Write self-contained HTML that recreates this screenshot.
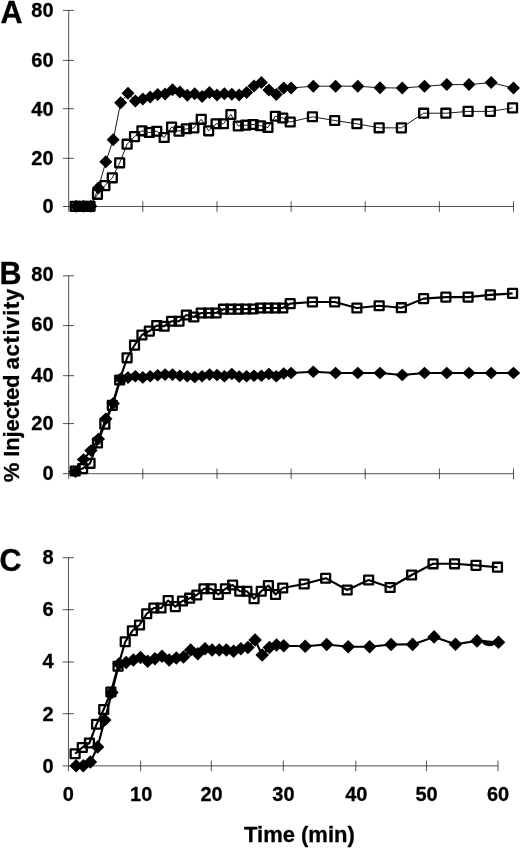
<!DOCTYPE html>
<html lang="en"><head><meta charset="utf-8"><title>Figure</title>
<style>
html,body{margin:0;padding:0;background:#fff}
svg{display:block}
text{font-family:"Liberation Sans",Arial,Helvetica,sans-serif;font-weight:bold;fill:#000;stroke:#000;stroke-width:0.3px;stroke-linejoin:round}
.yl text{font-size:20px;text-anchor:end}
.xl text{font-size:20px;text-anchor:middle}
.pl{font-size:30.5px}
.tl{font-size:22px;text-anchor:middle}
.rl{font-size:22px;text-anchor:start}
</style></head><body>
<svg width="520" height="849" viewBox="0 0 520 849">
<rect width="520" height="849" fill="#fff"/>
<g class="ax" stroke="#1a1a1a" stroke-width="0.75" fill="none">
<path d="M68.7 10.4V211.8"/>
<path d="M62.900000000000006 206.5H513.4"/>
<path d="M62.900000000000006 158.3H74.10000000000001"/>
<path d="M62.900000000000006 108.7H74.10000000000001"/>
<path d="M62.900000000000006 60.4H74.10000000000001"/>
<path d="M62.900000000000006 10.4H74.10000000000001"/>
<path d="M142.8 201.3V211.8"/>
<path d="M217.0 201.3V211.8"/>
<path d="M291.1 201.3V211.8"/>
<path d="M365.2 201.3V211.8"/>
<path d="M439.4 201.3V211.8"/>
<path d="M513.5 201.3V211.8"/>
</g>
<g class="yl">
<text x="53.6" y="213.3">0</text>
<text x="53.6" y="165.0">20</text>
<text x="53.6" y="115.5">40</text>
<text x="53.6" y="66.9">60</text>
<text x="53.6" y="17.0">80</text>
</g>
<text class="pl" x="0.6" y="22.5">A</text>
<polyline points="75.2,206.3 82.6,206.3 90.0,206.3 97.5,194.3 104.9,185.6 112.3,177.8 119.7,162.8 127.1,144.2 134.5,136.6 141.9,130.8 149.3,132.5 156.8,131.2 164.2,137.5 171.6,127.0 179.0,131.2 186.4,128.8 193.8,128.0 201.2,119.3 208.6,130.8 216.1,123.8 223.5,123.8 230.9,114.5 238.3,126.0 245.7,125.2 253.1,124.5 260.5,125.8 268.0,127.5 275.4,116.2 282.8,118.0 290.2,122.0 312.4,116.8 334.7,120.5 356.9,123.8 379.1,127.8 401.4,127.9 423.6,113.2 445.9,113.2 468.1,111.4 490.3,111.4 512.6,107.9" fill="none" stroke="#000" stroke-width="0.9" stroke-linejoin="round"/>
<polyline points="76.1,206.3 83.5,206.3 90.9,206.3 98.4,188.1 105.8,161.8 113.2,139.8 120.6,102.8 128.0,93.3 135.4,101.0 142.8,99.0 150.2,97.0 157.7,94.5 165.1,94.0 172.5,89.8 179.9,92.0 187.3,95.3 194.7,93.7 202.1,96.6 209.5,92.5 217.0,95.0 224.4,93.8 231.8,94.2 239.2,95.0 246.6,92.5 254.0,86.0 261.4,82.5 268.9,90.0 276.3,94.5 283.7,88.0 291.1,88.0 313.3,86.2 335.6,86.2 357.8,86.2 380.0,87.8 402.3,88.0 424.5,86.3 446.8,84.6 469.0,84.6 491.2,82.6 513.5,88.1" fill="none" stroke="#000" stroke-width="0.9" stroke-linejoin="round"/>
<g fill="none" stroke="#000" stroke-width="2.3" stroke-linejoin="round">
<rect x="70.76" y="201.85" width="8.9" height="8.9"/>
<rect x="78.18" y="201.85" width="8.9" height="8.9"/>
<rect x="85.59" y="201.85" width="8.9" height="8.9"/>
<rect x="93.00" y="189.85" width="8.9" height="8.9"/>
<rect x="100.41" y="181.15" width="8.9" height="8.9"/>
<rect x="107.83" y="173.35" width="8.9" height="8.9"/>
<rect x="115.24" y="158.35" width="8.9" height="8.9"/>
<rect x="122.65" y="139.75" width="8.9" height="8.9"/>
<rect x="130.07" y="132.15" width="8.9" height="8.9"/>
<rect x="137.48" y="126.35" width="8.9" height="8.9"/>
<rect x="144.89" y="128.05" width="8.9" height="8.9"/>
<rect x="152.31" y="126.80" width="8.9" height="8.9"/>
<rect x="159.72" y="133.05" width="8.9" height="8.9"/>
<rect x="167.13" y="122.55" width="8.9" height="8.9"/>
<rect x="174.55" y="126.80" width="8.9" height="8.9"/>
<rect x="181.96" y="124.30" width="8.9" height="8.9"/>
<rect x="189.37" y="123.55" width="8.9" height="8.9"/>
<rect x="196.78" y="114.85" width="8.9" height="8.9"/>
<rect x="204.20" y="126.35" width="8.9" height="8.9"/>
<rect x="211.61" y="119.30" width="8.9" height="8.9"/>
<rect x="219.02" y="119.30" width="8.9" height="8.9"/>
<rect x="226.44" y="110.05" width="8.9" height="8.9"/>
<rect x="233.85" y="121.55" width="8.9" height="8.9"/>
<rect x="241.26" y="120.75" width="8.9" height="8.9"/>
<rect x="248.68" y="120.05" width="8.9" height="8.9"/>
<rect x="256.09" y="121.30" width="8.9" height="8.9"/>
<rect x="263.50" y="123.05" width="8.9" height="8.9"/>
<rect x="270.91" y="111.80" width="8.9" height="8.9"/>
<rect x="278.33" y="113.55" width="8.9" height="8.9"/>
<rect x="285.74" y="117.55" width="8.9" height="8.9"/>
<rect x="307.98" y="112.30" width="8.9" height="8.9"/>
<rect x="330.22" y="116.05" width="8.9" height="8.9"/>
<rect x="352.46" y="119.30" width="8.9" height="8.9"/>
<rect x="374.70" y="123.35" width="8.9" height="8.9"/>
<rect x="396.94" y="123.45" width="8.9" height="8.9"/>
<rect x="419.17" y="108.75" width="8.9" height="8.9"/>
<rect x="441.41" y="108.75" width="8.9" height="8.9"/>
<rect x="463.65" y="106.95" width="8.9" height="8.9"/>
<rect x="485.89" y="106.95" width="8.9" height="8.9"/>
<rect x="508.13" y="103.45" width="8.9" height="8.9"/>
</g>
<g fill="#000">
<path d="M76.1 199.8l6.5 6.5l-6.5 6.5l-6.5 -6.5z"/>
<path d="M83.5 199.8l6.5 6.5l-6.5 6.5l-6.5 -6.5z"/>
<path d="M90.9 199.8l6.5 6.5l-6.5 6.5l-6.5 -6.5z"/>
<path d="M98.4 181.6l6.5 6.5l-6.5 6.5l-6.5 -6.5z"/>
<path d="M105.8 155.3l6.5 6.5l-6.5 6.5l-6.5 -6.5z"/>
<path d="M113.2 133.3l6.5 6.5l-6.5 6.5l-6.5 -6.5z"/>
<path d="M120.6 96.3l6.5 6.5l-6.5 6.5l-6.5 -6.5z"/>
<path d="M128.0 86.8l6.5 6.5l-6.5 6.5l-6.5 -6.5z"/>
<path d="M135.4 94.5l6.5 6.5l-6.5 6.5l-6.5 -6.5z"/>
<path d="M142.8 92.5l6.5 6.5l-6.5 6.5l-6.5 -6.5z"/>
<path d="M150.2 90.5l6.5 6.5l-6.5 6.5l-6.5 -6.5z"/>
<path d="M157.7 88.0l6.5 6.5l-6.5 6.5l-6.5 -6.5z"/>
<path d="M165.1 87.5l6.5 6.5l-6.5 6.5l-6.5 -6.5z"/>
<path d="M172.5 83.3l6.5 6.5l-6.5 6.5l-6.5 -6.5z"/>
<path d="M179.9 85.5l6.5 6.5l-6.5 6.5l-6.5 -6.5z"/>
<path d="M187.3 88.8l6.5 6.5l-6.5 6.5l-6.5 -6.5z"/>
<path d="M194.7 87.2l6.5 6.5l-6.5 6.5l-6.5 -6.5z"/>
<path d="M202.1 90.1l6.5 6.5l-6.5 6.5l-6.5 -6.5z"/>
<path d="M209.5 86.0l6.5 6.5l-6.5 6.5l-6.5 -6.5z"/>
<path d="M217.0 88.5l6.5 6.5l-6.5 6.5l-6.5 -6.5z"/>
<path d="M224.4 87.2l6.5 6.5l-6.5 6.5l-6.5 -6.5z"/>
<path d="M231.8 87.8l6.5 6.5l-6.5 6.5l-6.5 -6.5z"/>
<path d="M239.2 88.5l6.5 6.5l-6.5 6.5l-6.5 -6.5z"/>
<path d="M246.6 86.0l6.5 6.5l-6.5 6.5l-6.5 -6.5z"/>
<path d="M254.0 79.5l6.5 6.5l-6.5 6.5l-6.5 -6.5z"/>
<path d="M261.4 76.0l6.5 6.5l-6.5 6.5l-6.5 -6.5z"/>
<path d="M268.9 83.5l6.5 6.5l-6.5 6.5l-6.5 -6.5z"/>
<path d="M276.3 88.0l6.5 6.5l-6.5 6.5l-6.5 -6.5z"/>
<path d="M283.7 81.5l6.5 6.5l-6.5 6.5l-6.5 -6.5z"/>
<path d="M291.1 81.5l6.5 6.5l-6.5 6.5l-6.5 -6.5z"/>
<path d="M313.3 79.8l6.5 6.5l-6.5 6.5l-6.5 -6.5z"/>
<path d="M335.6 79.8l6.5 6.5l-6.5 6.5l-6.5 -6.5z"/>
<path d="M357.8 79.8l6.5 6.5l-6.5 6.5l-6.5 -6.5z"/>
<path d="M380.0 81.3l6.5 6.5l-6.5 6.5l-6.5 -6.5z"/>
<path d="M402.3 81.5l6.5 6.5l-6.5 6.5l-6.5 -6.5z"/>
<path d="M424.5 79.8l6.5 6.5l-6.5 6.5l-6.5 -6.5z"/>
<path d="M446.8 78.1l6.5 6.5l-6.5 6.5l-6.5 -6.5z"/>
<path d="M469.0 78.1l6.5 6.5l-6.5 6.5l-6.5 -6.5z"/>
<path d="M491.2 76.1l6.5 6.5l-6.5 6.5l-6.5 -6.5z"/>
<path d="M513.5 81.6l6.5 6.5l-6.5 6.5l-6.5 -6.5z"/>
</g>
<g class="ax" stroke="#1a1a1a" stroke-width="0.75" fill="none">
<path d="M68.7 275.8V479.0"/>
<path d="M62.900000000000006 473.7H513.4"/>
<path d="M62.900000000000006 423.6H74.10000000000001"/>
<path d="M62.900000000000006 375.7H74.10000000000001"/>
<path d="M62.900000000000006 325.6H74.10000000000001"/>
<path d="M62.900000000000006 275.8H74.10000000000001"/>
<path d="M142.8 468.5V479.0"/>
<path d="M217.0 468.5V479.0"/>
<path d="M291.1 468.5V479.0"/>
<path d="M365.2 468.5V479.0"/>
<path d="M439.4 468.5V479.0"/>
<path d="M513.5 468.5V479.0"/>
</g>
<g class="yl">
<text x="53.6" y="480.2">0</text>
<text x="53.6" y="430.3">20</text>
<text x="53.6" y="381.6">40</text>
<text x="53.6" y="331.4">60</text>
<text x="53.6" y="281.3">80</text>
</g>
<text class="pl" x="-0.4" y="283.7">B</text>
<polyline points="75.2,471.0 82.6,468.6 90.0,463.3 97.5,443.0 104.9,424.2 112.3,405.4 119.7,380.0 127.1,357.8 134.5,345.2 141.9,335.0 149.3,331.1 156.8,325.5 164.2,326.2 171.6,321.2 179.0,321.2 186.4,315.0 193.8,317.0 201.2,313.0 208.6,313.0 216.1,313.0 223.5,309.2 230.9,309.2 238.3,309.2 245.7,309.0 253.1,309.0 260.5,308.0 268.0,308.0 275.4,308.0 282.8,308.0 290.2,303.6 312.4,302.0 334.7,302.0 356.9,308.0 379.1,305.8 401.4,307.7 423.6,298.6 445.9,297.1 468.1,297.1 490.3,294.9 512.6,293.4" fill="none" stroke="#000" stroke-width="2.1" stroke-linejoin="round"/>
<polyline points="75.4,471.7 83.5,459.5 90.9,450.5 98.4,439.0 105.8,418.8 113.2,403.4 120.6,378.8 128.0,377.6 135.4,376.3 142.8,377.4 150.2,376.3 157.7,375.2 165.1,374.6 172.5,374.6 179.9,375.7 187.3,376.3 194.7,377.0 202.1,376.3 209.5,374.6 217.0,375.0 224.4,376.3 231.8,374.0 239.2,376.6 246.6,376.3 254.0,375.7 261.4,375.7 268.9,374.0 276.3,376.3 283.7,373.5 291.1,373.0 313.3,371.8 335.6,373.0 357.8,373.0 380.0,373.0 402.3,375.0 424.5,373.0 446.8,373.0 469.0,373.0 491.2,373.0 513.5,373.0" fill="none" stroke="#000" stroke-width="2.1" stroke-linejoin="round"/>
<g fill="none" stroke="#000" stroke-width="2.3" stroke-linejoin="round">
<rect x="70.76" y="466.55" width="8.9" height="8.9"/>
<rect x="78.18" y="464.15" width="8.9" height="8.9"/>
<rect x="85.59" y="458.85" width="8.9" height="8.9"/>
<rect x="93.00" y="438.55" width="8.9" height="8.9"/>
<rect x="100.41" y="419.75" width="8.9" height="8.9"/>
<rect x="107.83" y="400.95" width="8.9" height="8.9"/>
<rect x="115.24" y="375.55" width="8.9" height="8.9"/>
<rect x="122.65" y="353.35" width="8.9" height="8.9"/>
<rect x="130.07" y="340.75" width="8.9" height="8.9"/>
<rect x="137.48" y="330.55" width="8.9" height="8.9"/>
<rect x="144.89" y="326.65" width="8.9" height="8.9"/>
<rect x="152.31" y="321.05" width="8.9" height="8.9"/>
<rect x="159.72" y="321.80" width="8.9" height="8.9"/>
<rect x="167.13" y="316.80" width="8.9" height="8.9"/>
<rect x="174.55" y="316.80" width="8.9" height="8.9"/>
<rect x="181.96" y="310.55" width="8.9" height="8.9"/>
<rect x="189.37" y="312.55" width="8.9" height="8.9"/>
<rect x="196.78" y="308.55" width="8.9" height="8.9"/>
<rect x="204.20" y="308.55" width="8.9" height="8.9"/>
<rect x="211.61" y="308.55" width="8.9" height="8.9"/>
<rect x="219.02" y="304.75" width="8.9" height="8.9"/>
<rect x="226.44" y="304.75" width="8.9" height="8.9"/>
<rect x="233.85" y="304.75" width="8.9" height="8.9"/>
<rect x="241.26" y="304.55" width="8.9" height="8.9"/>
<rect x="248.68" y="304.55" width="8.9" height="8.9"/>
<rect x="256.09" y="303.55" width="8.9" height="8.9"/>
<rect x="263.50" y="303.55" width="8.9" height="8.9"/>
<rect x="270.91" y="303.55" width="8.9" height="8.9"/>
<rect x="278.33" y="303.55" width="8.9" height="8.9"/>
<rect x="285.74" y="299.15" width="8.9" height="8.9"/>
<rect x="307.98" y="297.55" width="8.9" height="8.9"/>
<rect x="330.22" y="297.55" width="8.9" height="8.9"/>
<rect x="352.46" y="303.55" width="8.9" height="8.9"/>
<rect x="374.70" y="301.30" width="8.9" height="8.9"/>
<rect x="396.94" y="303.25" width="8.9" height="8.9"/>
<rect x="419.17" y="294.20" width="8.9" height="8.9"/>
<rect x="441.41" y="292.70" width="8.9" height="8.9"/>
<rect x="463.65" y="292.70" width="8.9" height="8.9"/>
<rect x="485.89" y="290.45" width="8.9" height="8.9"/>
<rect x="508.13" y="288.95" width="8.9" height="8.9"/>
</g>
<g fill="#000">
<path d="M75.4 465.4l6.7 6.3l-6.7 6.3l-6.7 -6.3z"/>
<path d="M83.5 453.2l6.7 6.3l-6.7 6.3l-6.7 -6.3z"/>
<path d="M90.9 444.2l6.7 6.3l-6.7 6.3l-6.7 -6.3z"/>
<path d="M98.4 432.7l6.7 6.3l-6.7 6.3l-6.7 -6.3z"/>
<path d="M105.8 412.5l6.7 6.3l-6.7 6.3l-6.7 -6.3z"/>
<path d="M113.2 397.1l6.7 6.3l-6.7 6.3l-6.7 -6.3z"/>
<path d="M120.6 372.4l6.7 6.3l-6.7 6.3l-6.7 -6.3z"/>
<path d="M128.0 371.3l6.7 6.3l-6.7 6.3l-6.7 -6.3z"/>
<path d="M135.4 370.0l6.7 6.3l-6.7 6.3l-6.7 -6.3z"/>
<path d="M142.8 371.1l6.7 6.3l-6.7 6.3l-6.7 -6.3z"/>
<path d="M150.2 370.0l6.7 6.3l-6.7 6.3l-6.7 -6.3z"/>
<path d="M157.7 368.9l6.7 6.3l-6.7 6.3l-6.7 -6.3z"/>
<path d="M165.1 368.3l6.7 6.3l-6.7 6.3l-6.7 -6.3z"/>
<path d="M172.5 368.3l6.7 6.3l-6.7 6.3l-6.7 -6.3z"/>
<path d="M179.9 369.4l6.7 6.3l-6.7 6.3l-6.7 -6.3z"/>
<path d="M187.3 370.0l6.7 6.3l-6.7 6.3l-6.7 -6.3z"/>
<path d="M194.7 370.7l6.7 6.3l-6.7 6.3l-6.7 -6.3z"/>
<path d="M202.1 370.0l6.7 6.3l-6.7 6.3l-6.7 -6.3z"/>
<path d="M209.5 368.3l6.7 6.3l-6.7 6.3l-6.7 -6.3z"/>
<path d="M217.0 368.7l6.7 6.3l-6.7 6.3l-6.7 -6.3z"/>
<path d="M224.4 370.0l6.7 6.3l-6.7 6.3l-6.7 -6.3z"/>
<path d="M231.8 367.7l6.7 6.3l-6.7 6.3l-6.7 -6.3z"/>
<path d="M239.2 370.3l6.7 6.3l-6.7 6.3l-6.7 -6.3z"/>
<path d="M246.6 370.0l6.7 6.3l-6.7 6.3l-6.7 -6.3z"/>
<path d="M254.0 369.4l6.7 6.3l-6.7 6.3l-6.7 -6.3z"/>
<path d="M261.4 369.4l6.7 6.3l-6.7 6.3l-6.7 -6.3z"/>
<path d="M268.9 367.7l6.7 6.3l-6.7 6.3l-6.7 -6.3z"/>
<path d="M276.3 370.0l6.7 6.3l-6.7 6.3l-6.7 -6.3z"/>
<path d="M283.7 367.2l6.7 6.3l-6.7 6.3l-6.7 -6.3z"/>
<path d="M291.1 366.7l6.7 6.3l-6.7 6.3l-6.7 -6.3z"/>
<path d="M313.3 365.4l6.7 6.3l-6.7 6.3l-6.7 -6.3z"/>
<path d="M335.6 366.7l6.7 6.3l-6.7 6.3l-6.7 -6.3z"/>
<path d="M357.8 366.7l6.7 6.3l-6.7 6.3l-6.7 -6.3z"/>
<path d="M380.0 366.7l6.7 6.3l-6.7 6.3l-6.7 -6.3z"/>
<path d="M402.3 368.7l6.7 6.3l-6.7 6.3l-6.7 -6.3z"/>
<path d="M424.5 366.7l6.7 6.3l-6.7 6.3l-6.7 -6.3z"/>
<path d="M446.8 366.7l6.7 6.3l-6.7 6.3l-6.7 -6.3z"/>
<path d="M469.0 366.7l6.7 6.3l-6.7 6.3l-6.7 -6.3z"/>
<path d="M491.2 366.7l6.7 6.3l-6.7 6.3l-6.7 -6.3z"/>
<path d="M513.5 366.7l6.7 6.3l-6.7 6.3l-6.7 -6.3z"/>
</g>
<g class="ax" stroke="#1a1a1a" stroke-width="0.75" fill="none">
<path d="M68.45 557.7V771.1999999999999"/>
<path d="M62.650000000000006 765.9H498.0"/>
<path d="M62.650000000000006 713.7H73.85000000000001"/>
<path d="M62.650000000000006 662.0H73.85000000000001"/>
<path d="M62.650000000000006 609.7H73.85000000000001"/>
<path d="M62.650000000000006 557.7H73.85000000000001"/>
<path d="M140.6 760.6999999999999V771.1999999999999"/>
<path d="M211.3 760.6999999999999V771.1999999999999"/>
<path d="M283.3 760.6999999999999V771.1999999999999"/>
<path d="M355.8 760.6999999999999V771.1999999999999"/>
<path d="M426.5 760.6999999999999V771.1999999999999"/>
<path d="M498.0 760.6999999999999V771.1999999999999"/>
</g>
<g class="yl">
<text x="53.6" y="772.6">0</text>
<text x="53.6" y="720.5">2</text>
<text x="53.6" y="668.3">4</text>
<text x="53.6" y="616.3">6</text>
<text x="53.6" y="564.2">8</text>
</g>
<text class="pl" x="-0.6" y="571.1">C</text>
<polyline points="75.1,753.8 82.3,747.5 89.4,743.0 96.6,724.2 103.7,709.5 110.9,692.0 118.1,666.2 125.2,641.8 132.4,630.8 139.5,625.0 146.7,613.8 153.9,608.0 161.0,608.0 168.2,600.5 175.3,606.6 182.5,601.0 189.7,598.2 196.8,595.0 204.0,588.8 211.1,588.8 218.3,594.5 225.4,588.8 232.6,585.0 239.8,591.2 246.9,591.2 254.1,598.8 261.2,591.2 268.4,585.5 275.6,594.5 282.7,588.0 304.2,584.0 325.7,578.2 347.2,590.0 368.6,580.0 390.1,587.5 411.6,575.0 433.1,563.8 454.5,563.8 476.0,565.4 497.5,567.2" fill="none" stroke="#000" stroke-width="2.1" stroke-linejoin="round"/>
<polyline points="76.1,765.8 83.3,765.8 90.4,762.0 97.6,747.0 104.7,720.0 111.9,692.5 119.1,663.8 126.2,662.5 133.4,660.0 140.5,657.5 147.7,661.2 154.9,658.8 162.0,656.2 169.2,660.0 176.3,658.0 183.5,657.0 190.7,650.0 197.8,653.8 205.0,648.8 212.1,650.0 219.3,650.0 226.4,650.0 233.6,651.2 240.8,648.8 247.9,647.5 255.1,640.0 262.2,655.0 269.4,647.5 276.6,645.0 283.7,645.8 305.2,646.2 326.7,644.5 348.2,646.8 369.6,646.8 391.1,644.5 412.6,644.4 434.1,636.9 455.5,644.3 477.0,640.9 498.5,642.2" fill="none" stroke="#000" stroke-width="2.1" stroke-linejoin="round"/>
<g fill="none" stroke="#000" stroke-width="2.3" stroke-linejoin="round">
<rect x="70.66" y="749.30" width="8.9" height="8.9"/>
<rect x="77.82" y="743.05" width="8.9" height="8.9"/>
<rect x="84.98" y="738.55" width="8.9" height="8.9"/>
<rect x="92.14" y="719.80" width="8.9" height="8.9"/>
<rect x="99.30" y="705.05" width="8.9" height="8.9"/>
<rect x="106.45" y="687.55" width="8.9" height="8.9"/>
<rect x="113.61" y="661.80" width="8.9" height="8.9"/>
<rect x="120.77" y="637.30" width="8.9" height="8.9"/>
<rect x="127.93" y="626.30" width="8.9" height="8.9"/>
<rect x="135.09" y="620.55" width="8.9" height="8.9"/>
<rect x="142.25" y="609.30" width="8.9" height="8.9"/>
<rect x="149.41" y="603.55" width="8.9" height="8.9"/>
<rect x="156.57" y="603.55" width="8.9" height="8.9"/>
<rect x="163.73" y="596.05" width="8.9" height="8.9"/>
<rect x="170.88" y="602.15" width="8.9" height="8.9"/>
<rect x="178.04" y="596.55" width="8.9" height="8.9"/>
<rect x="185.20" y="593.75" width="8.9" height="8.9"/>
<rect x="192.36" y="590.55" width="8.9" height="8.9"/>
<rect x="199.52" y="584.30" width="8.9" height="8.9"/>
<rect x="206.68" y="584.30" width="8.9" height="8.9"/>
<rect x="213.84" y="590.05" width="8.9" height="8.9"/>
<rect x="221.00" y="584.30" width="8.9" height="8.9"/>
<rect x="228.16" y="580.55" width="8.9" height="8.9"/>
<rect x="235.32" y="586.80" width="8.9" height="8.9"/>
<rect x="242.48" y="586.80" width="8.9" height="8.9"/>
<rect x="249.63" y="594.30" width="8.9" height="8.9"/>
<rect x="256.79" y="586.80" width="8.9" height="8.9"/>
<rect x="263.95" y="581.05" width="8.9" height="8.9"/>
<rect x="271.11" y="590.05" width="8.9" height="8.9"/>
<rect x="278.27" y="583.55" width="8.9" height="8.9"/>
<rect x="299.75" y="579.55" width="8.9" height="8.9"/>
<rect x="321.22" y="573.80" width="8.9" height="8.9"/>
<rect x="342.70" y="585.55" width="8.9" height="8.9"/>
<rect x="364.18" y="575.55" width="8.9" height="8.9"/>
<rect x="385.65" y="583.05" width="8.9" height="8.9"/>
<rect x="407.13" y="570.55" width="8.9" height="8.9"/>
<rect x="428.61" y="559.35" width="8.9" height="8.9"/>
<rect x="450.09" y="559.35" width="8.9" height="8.9"/>
<rect x="471.56" y="560.95" width="8.9" height="8.9"/>
<rect x="493.04" y="562.75" width="8.9" height="8.9"/>
</g>
<g fill="#000">
<path d="M76.1 759.0l6.8 6.8l-6.8 6.8l-6.8 -6.8z"/>
<path d="M83.3 759.0l6.8 6.8l-6.8 6.8l-6.8 -6.8z"/>
<path d="M90.4 755.2l6.8 6.8l-6.8 6.8l-6.8 -6.8z"/>
<path d="M97.6 740.2l6.8 6.8l-6.8 6.8l-6.8 -6.8z"/>
<path d="M104.7 713.2l6.8 6.8l-6.8 6.8l-6.8 -6.8z"/>
<path d="M111.9 685.7l6.8 6.8l-6.8 6.8l-6.8 -6.8z"/>
<path d="M119.1 657.0l6.8 6.8l-6.8 6.8l-6.8 -6.8z"/>
<path d="M126.2 655.7l6.8 6.8l-6.8 6.8l-6.8 -6.8z"/>
<path d="M133.4 653.2l6.8 6.8l-6.8 6.8l-6.8 -6.8z"/>
<path d="M140.5 650.7l6.8 6.8l-6.8 6.8l-6.8 -6.8z"/>
<path d="M147.7 654.5l6.8 6.8l-6.8 6.8l-6.8 -6.8z"/>
<path d="M154.9 652.0l6.8 6.8l-6.8 6.8l-6.8 -6.8z"/>
<path d="M162.0 649.5l6.8 6.8l-6.8 6.8l-6.8 -6.8z"/>
<path d="M169.2 653.2l6.8 6.8l-6.8 6.8l-6.8 -6.8z"/>
<path d="M176.3 651.2l6.8 6.8l-6.8 6.8l-6.8 -6.8z"/>
<path d="M183.5 650.2l6.8 6.8l-6.8 6.8l-6.8 -6.8z"/>
<path d="M190.7 643.2l6.8 6.8l-6.8 6.8l-6.8 -6.8z"/>
<path d="M197.8 647.0l6.8 6.8l-6.8 6.8l-6.8 -6.8z"/>
<path d="M205.0 642.0l6.8 6.8l-6.8 6.8l-6.8 -6.8z"/>
<path d="M212.1 643.2l6.8 6.8l-6.8 6.8l-6.8 -6.8z"/>
<path d="M219.3 643.2l6.8 6.8l-6.8 6.8l-6.8 -6.8z"/>
<path d="M226.4 643.2l6.8 6.8l-6.8 6.8l-6.8 -6.8z"/>
<path d="M233.6 644.5l6.8 6.8l-6.8 6.8l-6.8 -6.8z"/>
<path d="M240.8 642.0l6.8 6.8l-6.8 6.8l-6.8 -6.8z"/>
<path d="M247.9 640.7l6.8 6.8l-6.8 6.8l-6.8 -6.8z"/>
<path d="M255.1 633.2l6.8 6.8l-6.8 6.8l-6.8 -6.8z"/>
<path d="M262.2 648.2l6.8 6.8l-6.8 6.8l-6.8 -6.8z"/>
<path d="M269.4 640.7l6.8 6.8l-6.8 6.8l-6.8 -6.8z"/>
<path d="M276.6 638.2l6.8 6.8l-6.8 6.8l-6.8 -6.8z"/>
<path d="M283.7 639.0l6.8 6.8l-6.8 6.8l-6.8 -6.8z"/>
<path d="M305.2 639.5l6.8 6.8l-6.8 6.8l-6.8 -6.8z"/>
<path d="M326.7 637.7l6.8 6.8l-6.8 6.8l-6.8 -6.8z"/>
<path d="M348.2 640.0l6.8 6.8l-6.8 6.8l-6.8 -6.8z"/>
<path d="M369.6 640.0l6.8 6.8l-6.8 6.8l-6.8 -6.8z"/>
<path d="M391.1 637.7l6.8 6.8l-6.8 6.8l-6.8 -6.8z"/>
<path d="M412.6 637.6l6.8 6.8l-6.8 6.8l-6.8 -6.8z"/>
<path d="M434.1 630.1l6.8 6.8l-6.8 6.8l-6.8 -6.8z"/>
<path d="M455.5 637.5l6.8 6.8l-6.8 6.8l-6.8 -6.8z"/>
<path d="M477.0 634.1l6.8 6.8l-6.8 6.8l-6.8 -6.8z"/>
<path d="M498.5 635.4l6.8 6.8l-6.8 6.8l-6.8 -6.8z"/>
</g>
<path d="M484.6 642.3Q488 644.6 492 643.6" fill="none" stroke="#000" stroke-width="4.6" stroke-linecap="round"/>
<g class="xl">
<text x="68.4" y="801.3">0</text>
<text x="141.2" y="801.3">10</text>
<text x="211.5" y="801.3">20</text>
<text x="283.4" y="801.3">30</text>
<text x="356.3" y="801.3">40</text>
<text x="426.6" y="801.3">50</text>
<text x="498.0" y="801.3">60</text>
</g>
<text class="tl" x="299.4" y="842">Time (min)</text>
<g transform="translate(18.8 482.2) rotate(-90)"><text class="rl" x="0" y="0" style="letter-spacing:-0.12px">% Injected</text><text class="rl" x="112.8" y="0" style="letter-spacing:0.7px">activity</text></g>
</svg>
</body></html>
